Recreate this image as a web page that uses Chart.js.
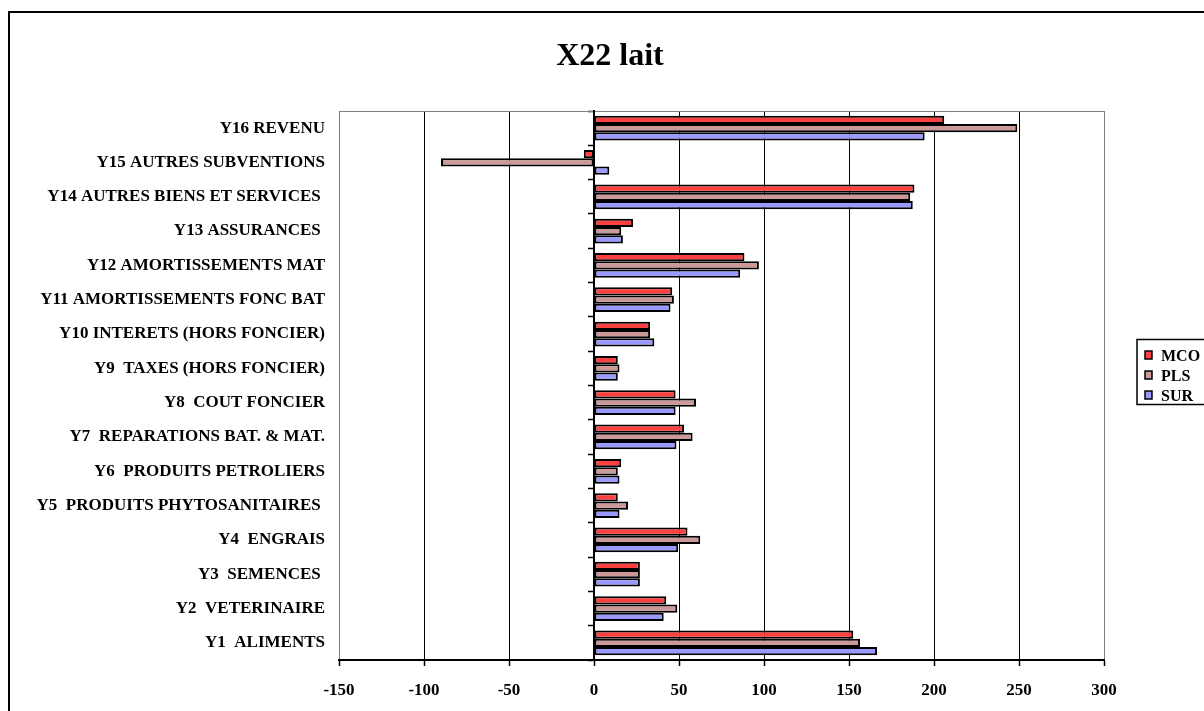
<!DOCTYPE html>
<html>
<head>
<meta charset="utf-8">
<script src="https://cdn.jsdelivr.net/npm/chart.js@4.4.1/dist/chart.umd.min.js"></script>
<style>
  html, body { margin: 0; padding: 0; background: #ffffff; }
  canvas { display: block; }
</style>
</head>
<body>
<canvas id="chart" width="1204" height="711"></canvas>
<script>
// Title and categories (top to bottom)
const chartTitle = 'X22 lait';
const categories = [
  'Y16 REVENU',
  'Y15 AUTRES SUBVENTIONS',
  'Y14 AUTRES BIENS ET SERVICES ',
  'Y13 ASSURANCES ',
  'Y12 AMORTISSEMENTS MAT',
  'Y11 AMORTISSEMENTS FONC BAT',
  'Y10 INTERETS (HORS FONCIER)',
  'Y9  TAXES (HORS FONCIER)',
  'Y8  COUT FONCIER',
  'Y7  REPARATIONS BAT. & MAT.',
  'Y6  PRODUITS PETROLIERS',
  'Y5  PRODUITS PHYTOSANITAIRES ',
  'Y4  ENGRAIS',
  'Y3  SEMENCES ',
  'Y2  VETERINAIRE',
  'Y1  ALIMENTS'
];

// Series
const seriesNames = ['MCO', 'PLS', 'SUR'];
const mcoValues = [206, -6, 188.5, 23, 88.5, 46, 33, 14, 48, 53, 16, 14, 55, 27, 42.5, 152.5];
const plsValues = [249, -90, 186, 16, 97, 47, 33, 15, 60, 58, 14, 20, 62.5, 27, 49, 156.5];
const surValues = [194.5, 9, 187.5, 17, 86, 45, 35.5, 14, 48, 48.5, 15, 15, 49.5, 27, 41, 166.5];
const seriesColors = ['#ff4040', '#cc9999', '#9999ff'];

// Value axis
const xTicks = [-150, -100, -50, 0, 50, 100, 150, 200, 250, 300];

const serif = "'Liberation Serif', 'Times New Roman', serif";

// Frame, title and legend box
const decorations = {
  id: 'decorations',
  beforeDraw(chart) {
    const ctx = chart.ctx;
    ctx.save();
    ctx.strokeStyle = '#000';
    ctx.lineWidth = 2;
    ctx.strokeRect(9, 12, 1400, 1000);
    ctx.restore();
  },
  afterDraw(chart) {
    const ctx = chart.ctx;
    ctx.save();
    // title
    ctx.fillStyle = '#000';
    ctx.font = 'bold 32px ' + serif;
    ctx.textAlign = 'center';
    ctx.textBaseline = 'middle';
    ctx.fillText(chartTitle, 610, 57);

    // legend
    ctx.strokeStyle = '#000';
    ctx.lineWidth = 1.5;
    ctx.strokeRect(1137, 339.5, 120, 65);
    ctx.font = 'bold 16px ' + serif;
    ctx.textAlign = 'left';
    ctx.textBaseline = 'middle';
    chart.data.datasets.forEach((ds, i) => {
      const cy = 356 + i * 20;
      ctx.fillStyle = ds.backgroundColor;
      ctx.fillRect(1145, cy - 5, 7, 8);
      ctx.lineWidth = 1.5;
      ctx.strokeRect(1145, cy - 5, 7, 8);
      ctx.fillStyle = '#000';
      ctx.fillText(ds.label, 1161, cy + 1);
    });
    ctx.restore();
  }
};

const seriesValues = [mcoValues, plsValues, surValues];

new Chart(document.getElementById('chart'), {
  type: 'bar',
  data: {
    labels: categories,
    datasets: seriesNames.map((name, i) => ({
      label: name,
      data: seriesValues[i],
      backgroundColor: seriesColors[i],
      borderColor: '#000',
      borderWidth: 2,
      borderSkipped: false,
      categoryPercentage: 0.72,
      barPercentage: 1.0,
      yAxisID: 'y'
    }))
  },
  options: {
    indexAxis: 'y',
    responsive: false,
    animation: false,
    devicePixelRatio: 1,
    layout: { padding: { top: 111, left: 0, right: 100, bottom: 0 } },
    plugins: {
      legend: { display: false },
      title: { display: false },
      tooltip: { enabled: false }
    },
    scales: {
      x: {
        type: 'linear',
        position: 'bottom',
        min: -150,
        max: 300,
        afterBuildTicks(scale) { scale.ticks = xTicks.map(v => ({ value: v })); },
        afterFit(scale) { scale.height = 51; },
        grid: {
          color: c => (c.tick && (c.tick.value === -150 || c.tick.value === 300)) ? '#808080' : '#000',
          lineWidth: 1,
          drawTicks: true,
          tickLength: 6,
          tickColor: '#000',
          tickWidth: 1.5
        },
        border: { display: true, color: '#000', width: 2 },
        ticks: {
          color: '#000',
          padding: 14,
          font: { family: serif, size: 17, weight: 'bold' }
        }
      },
      xTop: {
        type: 'linear',
        axis: 'x',
        position: 'top',
        min: -150,
        max: 300,
        afterFit(scale) { scale.height = 0; },
        grid: { display: false, drawTicks: false },
        border: { display: true, color: '#808080', width: 1 },
        ticks: { display: false }
      },
      y: {
        type: 'category',
        position: 'left',
        offset: true,
        afterFit(scale) { scale.width = 339; },
        grid: { display: false, drawTicks: false },
        border: { display: false },
        ticks: {
          color: '#000',
          padding: 14,
          autoSkip: false,
          font: { family: serif, size: 17, weight: 'bold' }
        }
      },
      yZero: {
        type: 'category',
        axis: 'y',
        position: { x: 0 },
        offset: true,
        grid: {
          offset: true,
          drawOnChartArea: false,
          drawTicks: true,
          tickLength: 5,
          tickColor: '#000',
          tickWidth: 1.5
        },
        border: { display: true, color: '#000', width: 2 },
        ticks: { display: false }
      }
    }
  },
  plugins: [decorations]
});
</script>
</body>
</html>
